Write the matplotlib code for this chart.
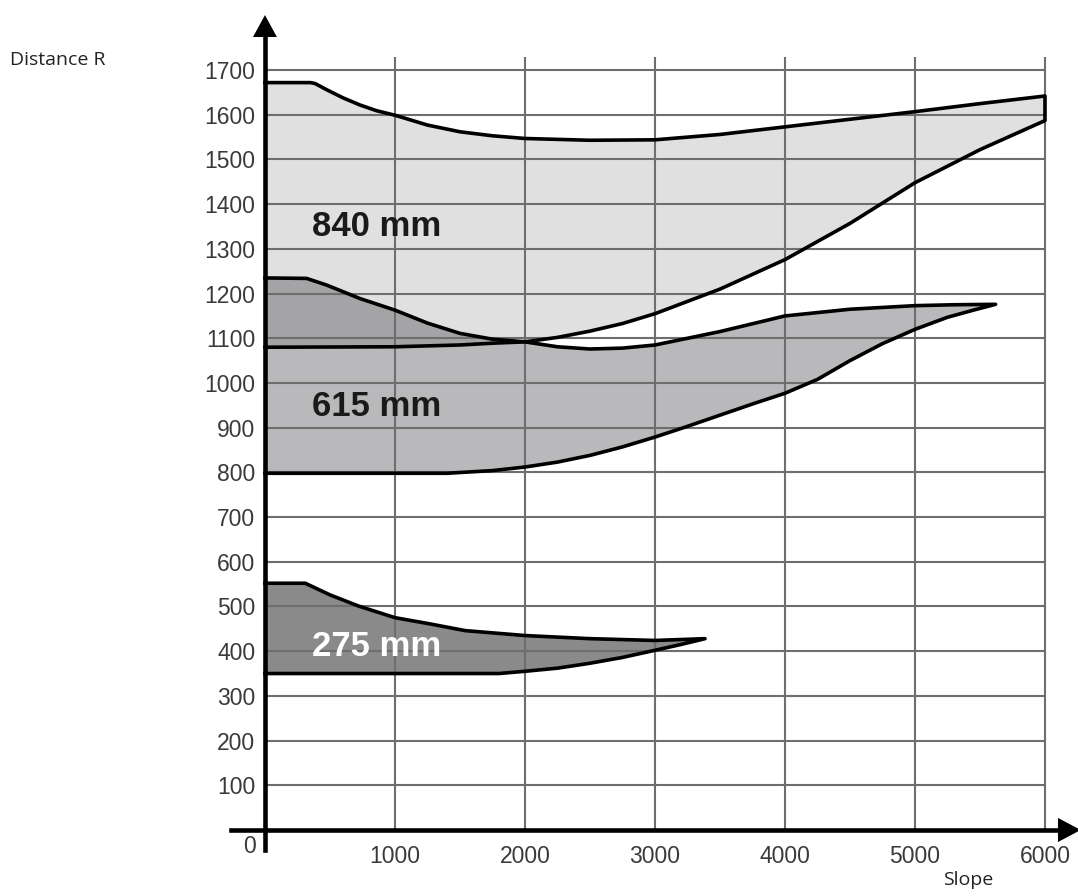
import matplotlib.pyplot as plt

# tick positions
x_ticks = [1000, 2000, 3000, 4000, 5000, 6000]
y_ticks = [100, 200, 300, 400, 500, 600, 700, 800, 900, 1000,
           1100, 1200, 1300, 1400, 1500, 1600, 1700]

# 840 mm band
top840_x = [0, 350, 385, 475, 600, 730, 860, 1000, 1250, 1500, 1750, 2000,
            2500, 3000, 3500, 4000, 4500, 5000, 5500, 6000]
top840_y = [1672, 1672, 1670, 1656, 1638, 1622, 1609, 1599, 1577, 1562, 1553, 1547,
            1543, 1544, 1556, 1573, 1590, 1607, 1625, 1642]
bot840_x = [0, 1000, 1500, 1750, 2000, 2250, 2500, 2750, 3000, 3500, 4000,
            4500, 5000, 5500, 6000]
bot840_y = [1080, 1081, 1085, 1089, 1092, 1102, 1116, 1133, 1155, 1210, 1276,
            1357, 1448, 1522, 1587]

# 615 mm band
top615_x = [0, 320, 475, 730, 1000, 1250, 1500, 1750, 2000, 2250, 2500, 2750,
            3000, 3500, 4000, 4500, 5000, 5300, 5620]
top615_y = [1235, 1234, 1219, 1189, 1163, 1134, 1111, 1098, 1092, 1081, 1076, 1078,
            1085, 1115, 1150, 1165, 1173, 1175, 1176]
bot615_x = [0, 1400, 1750, 2000, 2250, 2500, 2750, 3000, 3250, 3500, 3750, 4000,
            4250, 4500, 4750, 5000, 5250, 5450, 5620]
bot615_y = [798, 798, 804, 812, 823, 838, 857, 879, 903, 928, 953, 977,
            1008, 1050, 1088, 1120, 1147, 1163, 1176]

# 275 mm band
top275_x = [0, 310, 500, 720, 1000, 1270, 1540, 2000, 2500, 3000, 3385]
top275_y = [552, 552, 526, 501, 475, 461, 446, 435, 428, 424, 428]
bot275_x = [0, 1800, 2000, 2250, 2500, 2750, 3000, 3200, 3385]
bot275_y = [350, 350, 355, 362, 373, 386, 402, 415, 428]

labels = ['840 mm', '615 mm', '275 mm']
label_x = [360, 360, 360]
label_y = [1350, 948, 410]
label_colors = ['#1a1a1a', '#1a1a1a', 'white']

fig = plt.figure(figsize=(10.78, 8.96), dpi=100)
ax = fig.add_axes([0, 0, 1, 1])
ax.set_xlim(-2038, 6254)
ax.set_ylim(-147.7, 1856.8)


def band(tx, ty, bx, by):
    xs = list(tx) + list(bx[::-1])
    ys = list(ty) + list(by[::-1])
    return xs, ys


# fills
xs, ys = band(top840_x, top840_y, bot840_x, bot840_y)
ax.fill(xs, ys, color='#e0e0e0', lw=0, zorder=1)
xs, ys = band(top615_x, top615_y, bot615_x, bot615_y)
ax.fill(xs, ys, color='#202028', alpha=0.31, lw=0, zorder=1.2)
xs, ys = band(top275_x, top275_y, bot275_x, bot275_y)
ax.fill(xs, ys, color='#8a8a8a', lw=0, zorder=1.2)

# grid
ax.hlines(y_ticks, 0, 6000, color='#6e6e6e', lw=1.5, zorder=2)
ax.vlines(x_ticks, 0, 1730, color='#6e6e6e', lw=1.5, zorder=2)

# outlines
for tx, ty, bx, by in [(top840_x, top840_y, bot840_x, bot840_y),
                       (top615_x, top615_y, bot615_x, bot615_y),
                       (top275_x, top275_y, bot275_x, bot275_y)]:
    xs, ys = band(tx, ty, bx, by)
    ax.plot(xs, ys, color='black', lw=2.6, solid_joinstyle='round', zorder=3)

# axes lines
for s in ['top', 'right']:
    ax.spines[s].set_visible(False)
ax.spines['left'].set_position(('data', 0))
ax.spines['bottom'].set_position(('data', 0))
ax.spines['left'].set_bounds(-44, 1780)
ax.spines['bottom'].set_bounds(-258, 6110)
for s in ['left', 'bottom']:
    ax.spines[s].set_linewidth(3.3)
    ax.spines[s].set_zorder(4)

# arrow heads
ax.fill([-92, 0, 92], [1774, 1823, 1774], color='black', lw=0, zorder=4, clip_on=False)
ax.fill([6100, 6275, 6100], [27, 0, -27], color='black', lw=0, zorder=4, clip_on=False)

ax.set_xticks(x_ticks)
ax.set_yticks(y_ticks)
ax.tick_params(length=0, labelsize=16.5, labelcolor='#3a3a3a')
ax.tick_params(axis='x', pad=11)
ax.tick_params(axis='y', pad=7)
for t in ax.get_xticklabels() + ax.get_yticklabels():
    t.set_family('Liberation Sans')

ax.text(-115, -36, '0', fontsize=16.5, color='#3a3a3a', family='Liberation Sans',
        ha='center', va='center')

for lab, lx, ly, lc in zip(labels, label_x, label_y, label_colors):
    ax.text(lx, ly, lab, fontsize=25, fontweight='bold', color=lc,
            family='Liberation Sans', ha='left', va='center', zorder=5)

ax.text(-1962, 1723, 'Distance R', fontsize=14, color='#222222',
        family='Open Sans', ha='left', va='center')
ax.text(5408, -112, 'Slope', fontsize=14, color='#222222',
        family='Open Sans', ha='center', va='center')

fig.savefig('out.png', dpi=100)
